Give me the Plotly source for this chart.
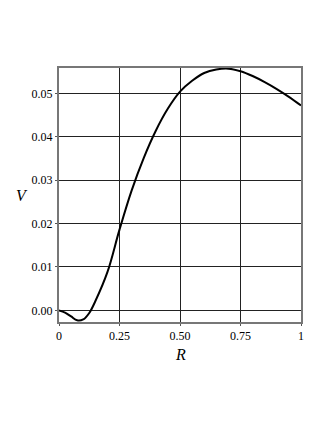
import plotly.graph_objects as go

R = [0, 0.025, 0.05, 0.075, 0.1, 0.125, 0.15, 0.2, 0.25, 0.3, 0.35, 0.4, 0.45, 0.5, 0.55, 0.6, 0.65, 0.7, 0.75, 0.8, 0.85, 0.9, 0.95, 1.0]
V = [0, -0.0005, -0.0014, -0.0023, -0.0021, -0.0006, 0.0021, 0.0088, 0.0186, 0.0276, 0.0351, 0.0414, 0.0465, 0.0504, 0.0529, 0.0547, 0.0555, 0.0557, 0.0551, 0.0540, 0.0526, 0.0510, 0.0492, 0.0472]

x_ticks = [0, 0.25, 0.5, 0.75, 1]
x_tick_labels = ["0", "0.25", "0.50", "0.75", "1"]
y_ticks = [0, 0.01, 0.02, 0.03, 0.04, 0.05]
y_tick_labels = ["0.00", "0.01", "0.02", "0.03", "0.04", "0.05"]

fig = go.Figure()
fig.add_trace(go.Scatter(x=R, y=V, mode="lines", line=dict(color="black", width=2, shape="spline", smoothing=1.0),
                         showlegend=False, hoverinfo="skip"))

font = dict(family="Liberation Serif, Times New Roman, serif", size=12, color="black")
axis_common = dict(showgrid=True, gridcolor="#222222", gridwidth=1, zeroline=False,
                   showline=True, linecolor="#777777", linewidth=2, mirror=True,
                   ticks="outside", ticklen=2, tickcolor="#555555", tickfont=font)

fig.update_layout(
    width=311, height=407,
    margin=dict(l=51, r=18, t=60, b=93),
    plot_bgcolor="white", paper_bgcolor="white",
    xaxis=dict(range=[0, 1], tickvals=x_ticks, ticktext=x_tick_labels, **axis_common),
    yaxis=dict(range=[-0.00268, 0.05585], tickvals=y_ticks, ticktext=y_tick_labels, **axis_common),
    annotations=[
        dict(text="<i>R</i>", xref="paper", yref="paper", x=0.5, y=0, yshift=-32, showarrow=False,
             xanchor="center", yanchor="middle", font=dict(family="Liberation Serif, serif", size=16, color="black")),
        dict(text="<i>V</i>", xref="paper", yref="paper", x=0, xshift=-37, y=0.5, showarrow=False,
             xanchor="center", yanchor="middle", font=dict(family="Liberation Serif, serif", size=16, color="black")),
    ],
)

fig.write_html("out.html")
